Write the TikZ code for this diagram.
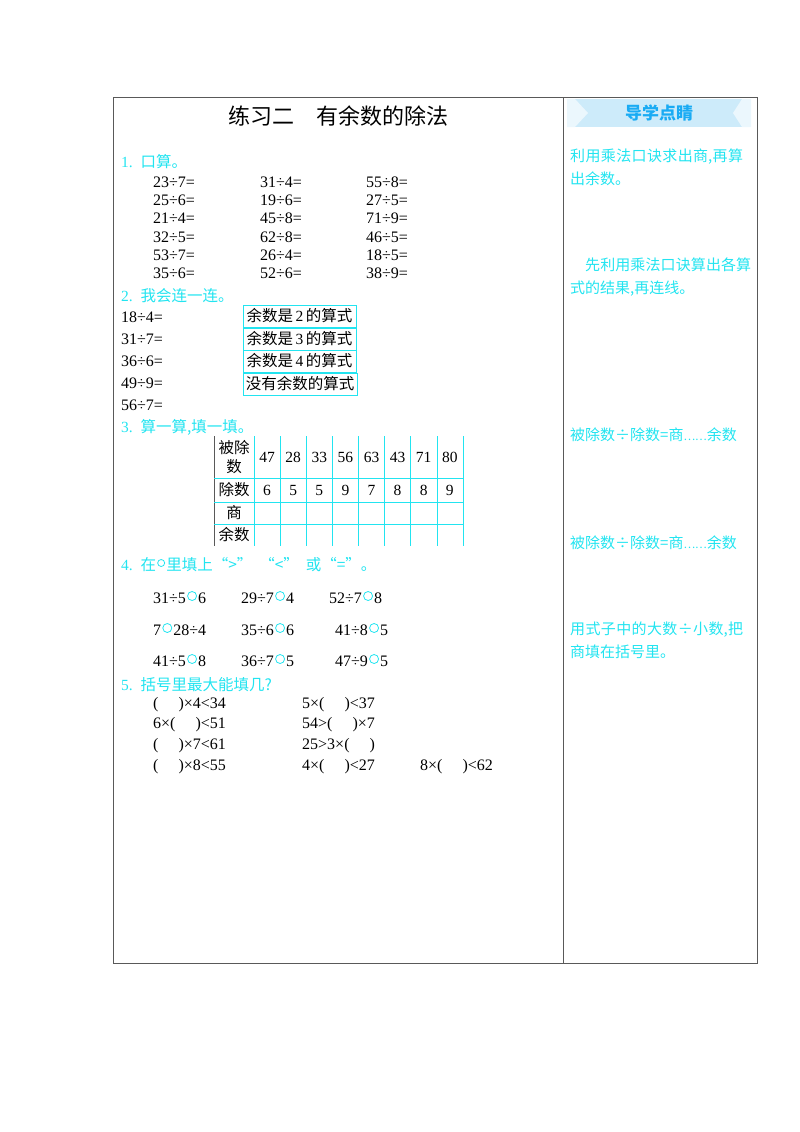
\documentclass[tikz,border=0pt]{standalone}
\usepackage{fontspec}
\setmainfont{Liberation Serif}
\newfontfamily\cjk{Noto Sans CJK SC}
\XeTeXlinebreaklocale "zh"
\XeTeXlinebreakskip=0pt plus 1pt
\usetikzlibrary{positioning}
\begin{document}
\begin{tikzpicture}[x=1pt,y=-1pt,
  t/.style={anchor=west,inner sep=0pt,font=\fontsize{16}{18}\selectfont},
  c/.style={t,text=cy,font=\fontsize{15.5}{17}\selectfont},
  side/.style={anchor=north west,inner sep=0pt,text=cy,align=left,text width=184pt,font=\cjk\fontsize{15}{23}\selectfont},
  bx/.style={draw=cy,minimum width=113pt,minimum height=22pt,inner sep=0pt,font=\fontsize{15.5}{17}\selectfont},
  cell/.style={inner sep=0pt,font=\fontsize{15.5}{17}\selectfont},
  oc/.style={draw=cy,circle,inner sep=0pt,minimum size=9pt,line width=0.8pt,yshift=2pt}]
\definecolor{cy}{HTML}{22E4F0}
\definecolor{lb}{HTML}{CDEBFA}
\useasboundingbox (0,0) rectangle (800,1132);
\draw[gray!70!black,line width=0.8pt] (113,97) rectangle (757,963);
\draw[gray!70!black,line width=0.8pt] (563,97) -- (563,963);
% banner
\fill[lb] (567,99) rectangle (751,127);
\fill[lb!40] (567,99) -- (575,99) -- (588,113) -- (575,127) -- (567,127) -- cycle;
\fill[lb!40] (751,99) -- (742,99) -- (733,113) -- (742,127) -- (751,127) -- cycle;
\node[cell,text=cy!75!blue,font=\cjk\bfseries\fontsize{17}{19}\selectfont] (bn) at (659,113) {导学点睛};
\node[font=\cjk\fontsize{22}{25}\selectfont] (ti) at (338,116) {练习二\hspace{1em}有余数的除法};
% section 1
\node[c] (s1) at (121,162) {1.\ \ {\cjk 口算。}};
\foreach \a/\b/\cc [count=\i] in {23÷7=/31÷4=/55÷8=,25÷6=/19÷6=/27÷5=,21÷4=/45÷8=/71÷9=,32÷5=/62÷8=/46÷5=,53÷7=/26÷4=/18÷5=,35÷6=/52÷6=/38÷9=}{
  \node[t] (p\i a) at (153,182+18.3*\i-18.3) {\a};
  \node[t] (p\i b) at (260,182+18.3*\i-18.3) {\b};
  \node[t] (p\i c) at (366,182+18.3*\i-18.3) {\cc};
}
% section 2
\node[c] (s2) at (121,296) {2.\ \ {\cjk 我会连一连。}};
\foreach \a [count=\i] in {18÷4=,31÷7=,36÷6=,49÷9=,56÷7=}
  \node[t] (l\i) at (121,317+22*\i-22) {\a};
\node[bx] (b1) at (299.5,316) {{\cjk 余数是}\,2\,{\cjk 的算式}};
\node[bx] (b2) at (299.5,339) {{\cjk 余数是}\,3\,{\cjk 的算式}};
\node[bx] (b3) at (299.5,361) {{\cjk 余数是}\,4\,{\cjk 的算式}};
\node[bx,minimum width=114pt] (b4) at (300,384) {\cjk 没有余数的算式};
% section 3
\node[c] (s3) at (121,427) {3.\ \ {\cjk 算一算,填一填。}};
\draw[gray!70!black] (214,436) -- (214,546);
\foreach \x in {254,280,306,332,358,384,410,437,463} \draw[cy] (\x,436) -- (\x,546);
\foreach \y in {478,502,524} \draw[cy] (214,\y) -- (463,\y);
\node[cell,align=center,font=\cjk\fontsize{15.5}{19}\selectfont] (h1) at (234,457) {被除\\数};
\node[cell,font=\cjk\fontsize{15.5}{17}\selectfont] (h2) at (234,490) {除数};
\node[cell,font=\cjk\fontsize{15.5}{17}\selectfont] (h3) at (234,513) {商};
\node[cell,font=\cjk\fontsize{15.5}{17}\selectfont] (h4) at (234,535) {余数};
\foreach \n/\d [count=\i] in {47/6,28/5,33/5,56/9,63/7,43/8,71/8,80/9}{
  \node[cell] (n\i) at (241+26.1*\i,457) {\n};
  \node[cell] (d\i) at (241+26.1*\i,490) {\d};
}
% section 4
\node[c] (s4a) at (121,565) {4.\ \ {\cjk 在}};
\node[oc,right=1pt of s4a,minimum size=7pt] (s4o) {};
\node[c,right=1pt of s4o,yshift=-2pt] (s4b) {\cjk 里填上“>”\ \ “<”\ \ 或“=”。};
\foreach \l/\r/\x/\y [count=\i] in {31÷5/6/153/598,29÷7/4/241/598,52÷7/8/329/598,7/28÷4/153/630,35÷6/6/241/630,41÷8/5/335/630,41÷5/8/153/661,36÷7/5/241/661,47÷9/5/335/661}{
  \node[t] (qa\i) at (\x,\y) {\l};
  \node[oc,right=1pt of qa\i] (o\i) {};
  \node[t,right=1pt of o\i,yshift=-2pt] (qb\i) {\r};
}
% section 5
\node[c] (s5) at (121,685) {5.\ \ {\cjk 括号里最大能填几?}};
\node[t] (r1) at (153,705) {(\hspace{20pt})×4<34};
\node[t] (r2) at (302,705) {5×(\hspace{20pt})<37};
\node[t] (r3) at (153,725) {6×(\hspace{20pt})<51};
\node[t] (r4) at (302,725) {54>(\hspace{20pt})×7};
\node[t] (r5) at (153,746) {(\hspace{20pt})×7<61};
\node[t] (r6) at (302,746) {25>3×(\hspace{20pt})};
\node[t] (r7) at (153,767) {(\hspace{20pt})×8<55};
\node[t] (r8) at (302,767) {4×(\hspace{20pt})<27};
\node[t] (r9) at (420,767) {8×(\hspace{20pt})<62};
% side notes
\node[side] (m1) at (570,149) {利用乘法口诀求出商,再算出余数。};
\node[side] (m2) at (570,258) {\hspace{1em}先利用乘法口诀算出各算式的结果,再连线。};
\node[side] (m3) at (570,428) {被除数÷除数=商{\fontsize{11}{12}\selectfont……}余数};
\node[side] (m4) at (570,536) {被除数÷除数=商{\fontsize{11}{12}\selectfont……}余数};
\node[side] (m5) at (570,622) {用式子中的大数÷小数,把商填在括号里。};
\end{tikzpicture}
\end{document}
